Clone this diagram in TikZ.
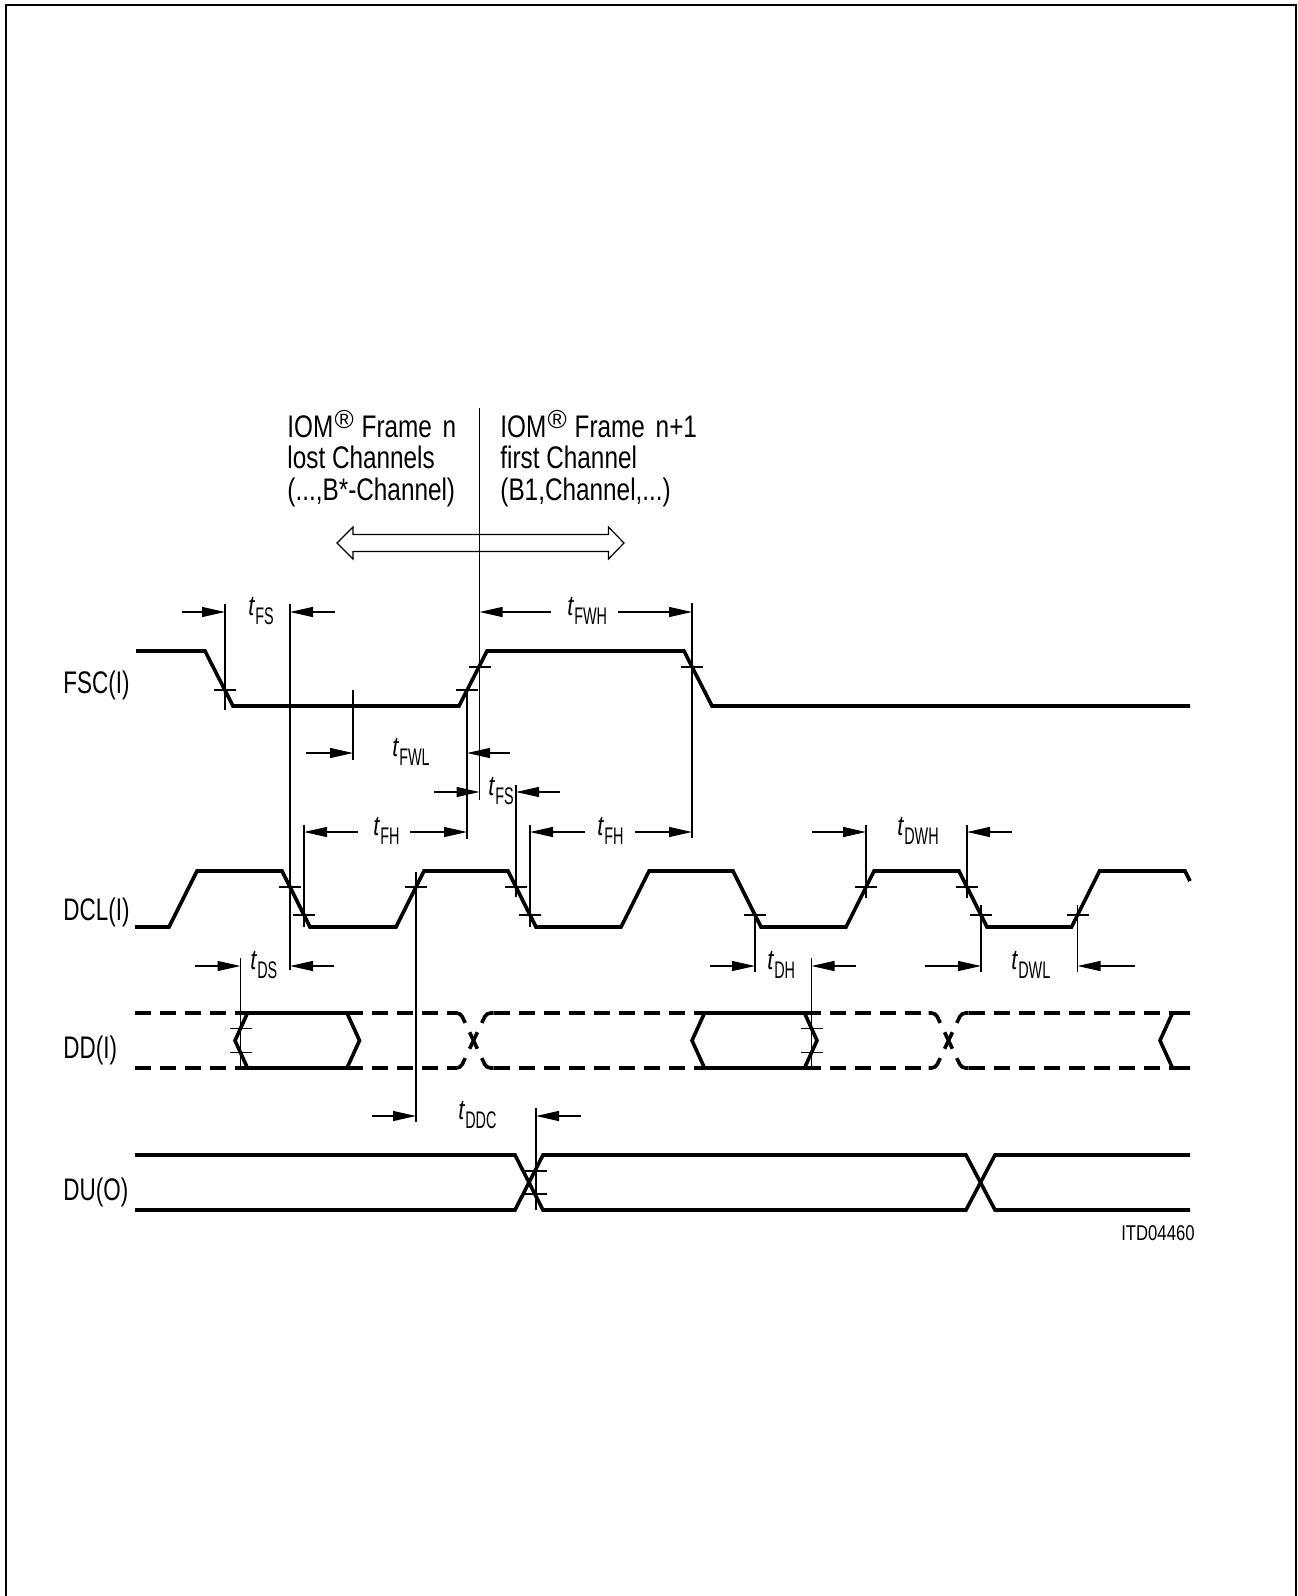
\documentclass[tikz,border=0pt]{standalone}
\usepackage{fontspec}
\setmainfont{Liberation Sans}[FakeStretch=0.78]
\newfontfamily\sigfont{Liberation Sans}[FakeStretch=0.72]
\newfontfamily\subfont{Liberation Sans}[FakeStretch=0.6]
\newfontfamily\regfont{Liberation Sans}
\usetikzlibrary{arrows.meta}
\newcommand\tlab[1]{{\fontsize{14pt}{14pt}\selectfont\itshape t}\kern0.4pt\raisebox{-4.5pt}{\subfont\fontsize{12pt}{12pt}\selectfont #1}}
\newcommand\regmark{\kern0.6pt\raisebox{4.2pt}{\regfont\fontsize{13pt}{13pt}\selectfont\textregistered}\kern0.6pt}
\begin{document}
\begin{tikzpicture}[x=0.5pt,y=-0.5pt,
  sig/.style={line width=1.8pt},
  dsig/.style={line width=1.8pt, dash pattern=on 8pt off 4.5pt},
  dim/.style={line width=0.6pt},
  dimarrow/.style={dim,-{Triangle[length=11.5pt,width=5pt]}},
  tlabel/.style={anchor=base west, inner sep=0pt},
  mainlbl/.style={anchor=base west, inner sep=0pt, font=\fontsize{15.6pt}{15.6pt}\selectfont},
  siglbl/.style={anchor=base west, inner sep=0pt, font=\sigfont\fontsize{15.6pt}{15.6pt}\selectfont},
  idlbl/.style={anchor=base east, inner sep=0pt, font=\fontsize{10.7pt}{10.7pt}\selectfont},
]
\useasboundingbox (0,0) rectangle (1297,1596);
% frame (open at the bottom)
\draw[line width=1pt] (6,1596) -- (6,5) -- (1296,5) -- (1296,1596);

% header texts
\node[mainlbl] (fn1) at (287,437) {IOM\regmark\ Frame\ \kern2pt n};
\node[mainlbl] (fn2) at (287,468.5) {lost Channels};
\node[mainlbl] (fn3) at (287,500) {(...,B*-Channel)};
\node[mainlbl] (fm1) at (500,437) {IOM\regmark\ Frame\ \kern2pt n+1};
\node[mainlbl] (fm2) at (500,468.5) {first Channel};
\node[mainlbl] (fm3) at (500,500) {(B1,Channel,...)};

% hollow double arrow
\draw[line width=0.6pt, fill=white] (337,543) -- (353,527) -- (353,534.5) -- (608.5,534.5) -- (608.5,527)
  -- (624,543) -- (608.5,559) -- (608.5,551.5) -- (353,551.5) -- (353,559) -- cycle;

% signal labels
\node[siglbl] (lfsc) at (63,693) {FSC(I)};
\node[siglbl] (ldcl) at (63,920) {DCL(I)};
\node[siglbl] (ldd) at (63,1058.5) {DD(I)};
\node[siglbl] (ldu) at (63,1200) {DU(O)};
\node[idlbl] (lid) at (1195,1240) {ITD04460};

% FSC
\draw[sig] (136,651) -- (205,651) -- (233,706) -- (459,706) -- (487,651) -- (684,651) -- (712,706) -- (1190,706);

% DCL
\draw[sig] (135,927) -- (169,927) -- (197,871) -- (282,871) -- (310,927) -- (396,927) -- (424,871)
  -- (508,871) -- (536,927) -- (621,927) -- (649,871) -- (733,871) -- (761,927) -- (846,927)
  -- (874,871) -- (959,871) -- (987,927) -- (1071.5,927) -- (1099.5,871) -- (1185,871) -- (1190,881);

% DD : valid windows
\draw[sig] (235,1040.5) -- (247.5,1013) -- (347,1013) -- (359.5,1040.5) -- (347,1068) -- (247.5,1068) -- cycle;
\draw[sig] (692,1040.5) -- (704.5,1013) -- (804.5,1013) -- (817,1040.5) -- (804.5,1068) -- (704.5,1068) -- cycle;
\draw[sig] (1190,1013) -- (1172.5,1013) -- (1160,1040.5) -- (1172.5,1068) -- (1190,1068);
% DD : don't care (dashed)
\foreach \ya in {1013,1068}{
  \draw[dsig] (135,\ya) -- (247.5,\ya);
  \draw[dsig] (347,\ya) -- (453.5,\ya);
  \draw[dsig] (493.5,\ya) -- (704.5,\ya);
  \draw[dsig] (804.5,\ya) -- (928.5,\ya);
  \draw[dsig] (968.5,\ya) -- (1172.5,\ya);
}
% DD : crossings
\foreach \c in {473.5,948.5}{
  \draw[sig, rounded corners=2pt] (\c-20,1013) -- (\c-13,1013) -- (\c-8.3,1022.9);
  \draw[sig, rounded corners=2pt] (\c-20,1068) -- (\c-13,1068) -- (\c-8.3,1058.1);
  \draw[sig, rounded corners=2pt] (\c+20,1013) -- (\c+13,1013) -- (\c+8.3,1022.9);
  \draw[sig, rounded corners=2pt] (\c+20,1068) -- (\c+13,1068) -- (\c+8.3,1058.1);
  \draw[sig] (\c-3.9,1032.25) -- (\c+3.9,1048.75);
  \draw[sig] (\c-3.9,1048.75) -- (\c+3.9,1032.25);
}

% DU
\draw[sig] (135,1155) -- (515,1155) -- (543,1210) -- (966,1210) -- (995,1155) -- (1190,1155);
\draw[sig] (135,1210) -- (515,1210) -- (543,1155) -- (966,1155) -- (995,1210) -- (1190,1210);

% reference verticals
\foreach \x/\a/\b in {225/604/710, 290/604/970, 353/690/760, 479.5/408/800, 467/688/839,
  692/603/838, 304/825/927, 516/785/897, 530/825/927, 416/872/1122, 755/913/972,
  866/825/898, 967/825/898, 981/905/972, 1077.5/905/972, 240.5/958/1068, 811.5/958/1068, 536/1108/1210}
  \draw[dim] (\x,\a) -- (\x,\b);

% threshold ticks
\foreach \x/\y in {225/690, 467/690, 479.5/667, 692/667,
  290/887, 304/915, 416/887, 516/887, 530/915, 755/915, 866/887, 967/887, 981/915, 1077.5/915,
  240.5/1028.5, 240.5/1052.5, 811.5/1028.5, 811.5/1052.5, 536/1171, 536/1194}
  \draw[dim] (\x-11,\y) -- (\x+11,\y);

% dimension arrows
\foreach \a/\b/\y in {182/225/612, 335/290/612,
  551/479.5/612, 618/692/612,
  306/353/753, 510/467/753,
  434/479.5/792, 560/516/792,
  358/304/832, 410/467/832,
  585/530/832, 635/692/832,
  812/866/832, 1012/967/832,
  195/240.5/966, 334/290/966,
  710/755/966, 856/811.5/966,
  925/981/966, 1135/1077.5/966,
  372/416/1116, 581/536/1116}
  \draw[dimarrow] (\a,\y) -- (\b,\y);

% timing labels
\node[tlabel] (tfs1) at (248,615) {\tlab{FS}};
\node[tlabel] (tfwh) at (567,615) {\tlab{FWH}};
\node[tlabel] (tfwl) at (392,756) {\tlab{FWL}};
\node[tlabel] (tfs2) at (488,795) {\tlab{FS}};
\node[tlabel] (tfh1) at (373,835) {\tlab{FH}};
\node[tlabel] (tfh2) at (597,835) {\tlab{FH}};
\node[tlabel] (tdwh) at (897,835) {\tlab{DWH}};
\node[tlabel] (tds) at (250,969) {\tlab{DS}};
\node[tlabel] (tdh) at (767,969) {\tlab{DH}};
\node[tlabel] (tdwl) at (1011,969) {\tlab{DWL}};
\node[tlabel] (tddc) at (458,1119) {\tlab{DDC}};
\end{tikzpicture}
\end{document}
